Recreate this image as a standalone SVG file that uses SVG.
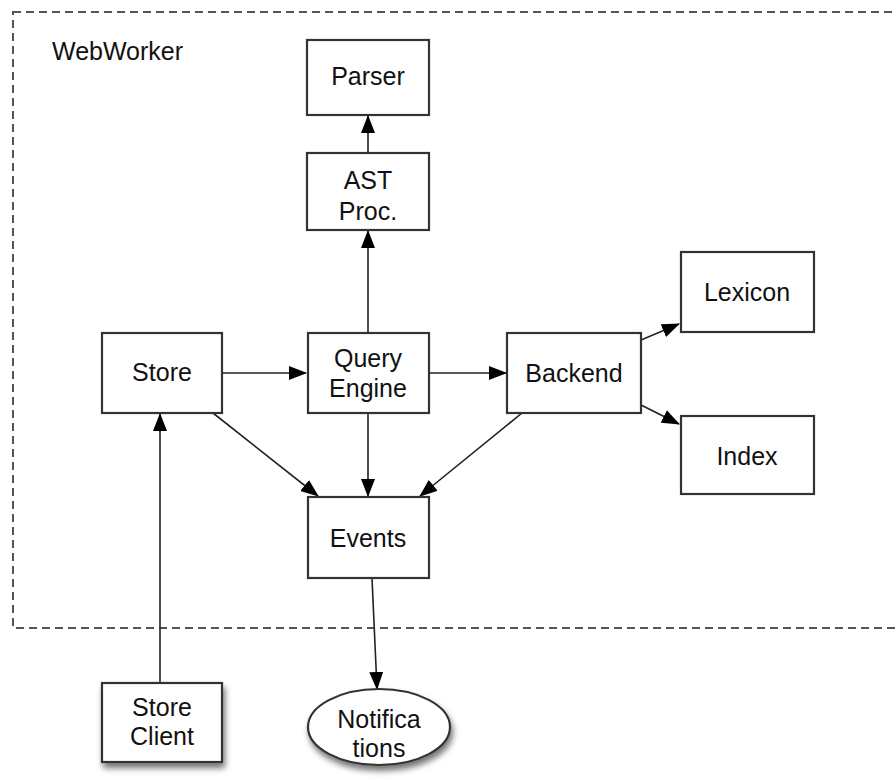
<svg xmlns="http://www.w3.org/2000/svg" width="896" height="780" viewBox="0 0 896 780">
<defs>
<marker id="arr" markerWidth="18" markerHeight="14" refX="17" refY="7" orient="auto" markerUnits="userSpaceOnUse">
<path d="M0,0 L18,7 L0,14 Z" fill="#000"/>
</marker>
<filter id="sh" x="-20%" y="-20%" width="150%" height="160%">
<feDropShadow dx="2" dy="5" stdDeviation="3" flood-color="#000" flood-opacity="0.55"/>
</filter>
</defs>
<style>
.box{fill:#fff;stroke:#333;stroke-width:2.2}
.lbl{font-family:"Liberation Sans",Arial,sans-serif;font-size:25px;fill:#111;text-anchor:middle}
.con{stroke:#222;stroke-width:1.6;fill:none;marker-end:url(#arr)}
</style>
<rect x="0" y="0" width="896" height="780" fill="#fff"/>
<g id="webworker">
<rect x="13" y="12" width="900" height="616" fill="none" stroke="#555" stroke-width="2" stroke-dasharray="8,5"/>
<text x="52" y="60" class="lbl" style="text-anchor:start">WebWorker</text>
</g>
<g id="connectors">
<line class="con" x1="368" y1="153" x2="368" y2="116"/>
<line class="con" x1="368" y1="333" x2="368" y2="231"/>
<line class="con" x1="222" y1="373" x2="306" y2="373"/>
<line class="con" x1="429" y1="373" x2="506" y2="373"/>
<line class="con" x1="641" y1="340" x2="679" y2="324"/>
<line class="con" x1="641" y1="405" x2="679" y2="424"/>
<line class="con" x1="213" y1="413" x2="318" y2="496"/>
<line class="con" x1="368" y1="413" x2="368" y2="496"/>
<line class="con" x1="522" y1="413" x2="420" y2="496"/>
<line class="con" x1="372" y1="578" x2="377" y2="689"/>
<line class="con" x1="160" y1="682" x2="160" y2="414"/>
</g>
<g id="parser"><rect class="box" x="307" y="40" width="122" height="75"/><text class="lbl" x="368" y="85">Parser</text></g>
<g id="ast"><rect class="box" x="307" y="153" width="122" height="77"/><text class="lbl" x="368" y="189">AST</text><text class="lbl" x="368" y="220">Proc.</text></g>
<g id="store"><rect class="box" x="102" y="333" width="120" height="80"/><text class="lbl" x="162" y="381">Store</text></g>
<g id="query"><rect class="box" x="308" y="333" width="121" height="80"/><text class="lbl" x="368" y="367">Query</text><text class="lbl" x="368" y="397">Engine</text></g>
<g id="backend"><rect class="box" x="507" y="333" width="134" height="80"/><text class="lbl" x="574" y="382">Backend</text></g>
<g id="lexicon"><rect class="box" x="681" y="252" width="133" height="80"/><text class="lbl" x="747" y="301">Lexicon</text></g>
<g id="index"><rect class="box" x="681" y="416" width="133" height="78"/><text class="lbl" x="747" y="465">Index</text></g>
<g id="events"><rect class="box" x="308" y="497" width="121" height="81"/><text class="lbl" x="368" y="547">Events</text></g>
<g id="storeclient"><rect class="box" x="102" y="683" width="120" height="79" filter="url(#sh)"/><text class="lbl" x="162" y="716">Store</text><text class="lbl" x="162" y="745">Client</text></g>
<g id="notifications"><ellipse class="box" cx="379" cy="727" rx="71" ry="38" filter="url(#sh)"/><text class="lbl" x="379" y="728">Notifica</text><text class="lbl" x="379" y="757">tions</text></g>
</svg>
